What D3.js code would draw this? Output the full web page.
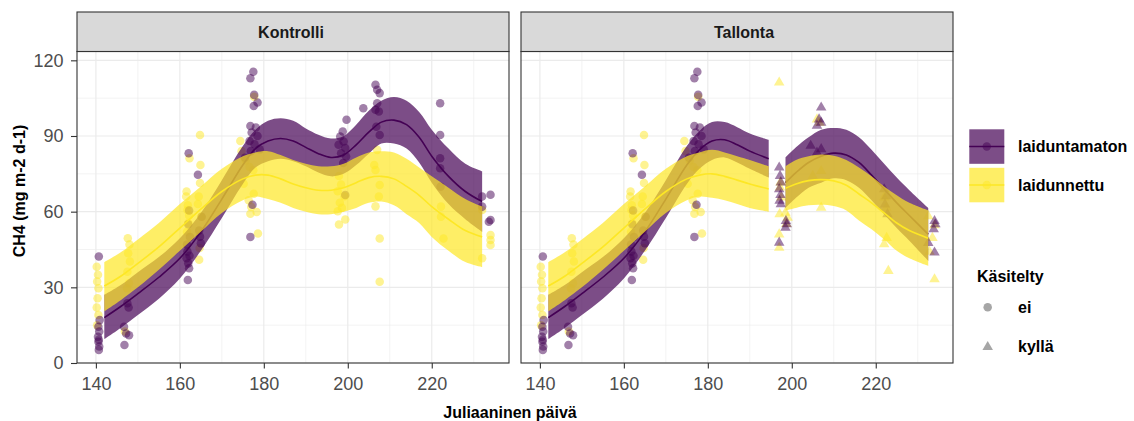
<!DOCTYPE html>
<html>
<head>
<meta charset="utf-8">
<script src="https://cdn.jsdelivr.net/npm/d3@7"></script>
<style>
body { margin: 0; background: #fff; }
svg { display: block; font-family: "Liberation Sans", Arial, sans-serif; }
</style>
</head>
<body>
<svg id="chart" width="1134" height="421"></svg>
<script>
// --- data ---
var paneelit = ['Kontrolli', 'Tallonta'];
var ryhmat = ['laiduntamaton', 'laidunnettu'];
var kasitelty = ['ei', 'kyllä'];
var xTicks = [140, 160, 180, 200, 220];
var yTicks = [0, 30, 60, 90, 120];

// points before treatment, shown in both panels (day, CH4)
var alkuLaiduntamaton = [
    [140.7, 42.2], [140.9, 17], [140.6, 14.4], [140.8, 12.5], [140.5, 10.4], [140.7, 9.2], [140.6, 8.4], [140.8, 6.5], [140.7, 5.2],
    [147.5, 23.7], [147.8, 22], [146.7, 14.4], [147.2, 11.7], [147.9, 11], [146.8, 7.1],
    [162.1, 83.2], [161.8, 44.2], [162.3, 42.5], [161.6, 41.5], [162.0, 39.5], [162.2, 37.6], [161.9, 32.9], [161.7, 47], [162.4, 50], [162, 55], [162.2, 60.5],
    [164.3, 74.6], [164.8, 50.1], [165, 47.5], [164.6, 52.5], [165.2, 58],
    [177.5, 115.5], [176.8, 112.9], [177.7, 106.3], [178.5, 103.3], [177.6, 101.9], [176.8, 94], [178.1, 93.4], [177.1, 91.4],
    [178.5, 90], [176.6, 88], [177.8, 86.7], [179, 84.7], [176.9, 84], [175.5, 81.4], [177.3, 62.7], [176.8, 50]
];
var alkuLaidunnettu = [
    [140.2, 38.2], [140.5, 35], [140.3, 32.3], [140.6, 29.6], [140.4, 25.7], [140.2, 22], [140.6, 19], [140.3, 15],
    [147.6, 49.5], [148, 47], [147.7, 43.5], [148.1, 40.2], [147.5, 36.2], [147.9, 31.6], [147.4, 29.6], [146.9, 12.5],
    [161.6, 68], [161.5, 66], [162.3, 81.2], [161.8, 60.7], [162, 55.5], [161.7, 52], [162.2, 58.5], [161.9, 62.5],
    [164.8, 90.4], [164.9, 78.5], [164.8, 71.4], [164.5, 66], [164.3, 63], [165.1, 58], [164.7, 45.6], [164.6, 40.9],
    [177.7, 105.6], [174.4, 88], [174.7, 84], [175.7, 80.3], [176.6, 77.7], [177.5, 76.4], [175.2, 71.1], [177.6, 67.1],
    [176.4, 64.5], [177, 61.9], [178.3, 59.9], [176.8, 59.2], [178.6, 51.3]
];

// later points, Kontrolli (not treated)
var kontLaiduntamaton = [
    [199.7, 96.4], [198.8, 91.8], [198.2, 89.8], [199, 87.8], [197.8, 86.5], [199.4, 85.2], [198.4, 83.2], [199.6, 81.9], [198.9, 79.3], [199.4, 66.6],
    [206.6, 110.3], [207, 108.3], [207.6, 107], [203.7, 101], [207, 103], [207.4, 99.7], [206.6, 100.4], [206.8, 93.7], [207.6, 90.4],
    [222, 103], [222, 90.4], [222, 81.2], [222, 77.2], [222.1, 69.9],
    [232, 66], [234, 66.7], [234, 56.7], [233.6, 56], [232, 62]
];
var kontLaidunnettu = [
    [197.9, 74.1], [198.4, 70.8], [197.6, 68.1], [199.2, 66.1], [198.1, 63.5], [198.6, 61.5], [197.6, 60.2], [199.4, 56.9], [197.9, 54.9],
    [207, 84.5], [206.3, 78.5], [206.6, 76.5], [207.6, 70.6], [207.4, 66], [206.6, 62.1], [207.6, 49.4], [207.6, 32.2],
    [222.2, 62], [222.2, 58], [222.8, 49.4],
    [232, 60.7], [234, 50.7], [234, 48.8], [234, 46.8], [232, 41.5]
];

// later points, Tallonta (treated)
var tallLaiduntamaton = [
    [197, 77.9], [197.2, 74.6], [197.4, 72], [197, 69.3], [197.3, 67], [197.1, 64.7], [197.4, 63.4], [197, 48.1], [198.6, 56.7], [198.8, 55.4], [198.5, 54],
    [207, 101.7], [206.5, 97], [207, 95.7], [206, 94.5], [204.5, 86.5], [207, 85.2], [206, 83.8],
    [222, 69.3], [222.5, 66.5], [222.2, 63.3], [222.8, 59.4],
    [234, 56.7], [234.2, 55.4], [233.8, 53.4], [232.5, 48], [234, 44.2]
];
var tallLaidunnettu = [
    [197, 111.6], [197.3, 72], [197.2, 70], [197.5, 66], [197.1, 59.4], [197, 51.4], [197, 46.1], [198.5, 60], [199, 58], [198.7, 55.5],
    [206, 97], [206.6, 95.7], [207, 76.5], [205, 74.6], [207, 62],
    [222, 66], [222.5, 62], [222, 47.5], [222.6, 50], [223, 36.9],
    [232.5, 58.6], [234, 55], [233.5, 50], [232.8, 44.5], [234, 33.6]
];

// smooth fits: Kontrolli
var kontPaivat = [142, 146, 150, 155, 160, 165, 170, 175, 178, 181, 184, 187, 190, 193, 196, 199, 202, 205, 208, 211, 214, 217, 220, 224, 228, 232];
var kontPFit = [18, 22.5, 27.5, 34, 41.5, 52, 65, 78.5, 85, 88, 89, 88, 85.5, 83, 81.5, 82.5, 86.5, 91.5, 95.5, 96.3, 94.5, 89.5, 82, 74, 68, 64];
var kontPYla = [27, 31, 36, 42, 49.5, 59.5, 72.5, 86, 92.5, 96, 97, 96, 93, 90.5, 89, 90, 94.5, 100, 104, 105.5, 104, 99.5, 92.5, 85, 79, 76];
var kontPAla = [9.5, 14, 19, 25.5, 33.5, 44.5, 57.5, 71, 77.5, 80, 81, 80, 78, 75.5, 74, 75, 78.5, 83, 87, 87, 85, 79.5, 71.5, 63, 57, 52];
var kontYFit = [30.5, 34.5, 39.5, 46, 53.5, 61, 68, 73, 74.5, 74.5, 73, 71, 69.5, 68.5, 68.5, 69.5, 71.5, 73.5, 74, 73, 70, 66.5, 62, 57, 52.5, 50];
var kontYYla = [40, 44, 49, 55.5, 63, 70, 77, 82, 83.5, 84, 82.5, 80.5, 79, 78, 78, 79, 81.5, 83.5, 84, 83.5, 81, 77.5, 74, 69.5, 65, 62];
var kontYAla = [20.5, 25, 30, 37, 44.5, 52, 59.5, 64.5, 66, 65, 63.5, 61.5, 60, 59, 59, 60, 61.5, 63.5, 64, 62.5, 59, 55.5, 50, 44.5, 40, 38];

// smooth fits: Tallonta, before and after treatment
var tall1Paivat = [142, 146, 150, 155, 160, 165, 170, 175, 178, 181, 184, 187, 190, 194.5];
var tall1PFit = [18, 22.5, 27.5, 34, 41.5, 52, 65, 78.5, 84.5, 88, 88.5, 86.5, 84, 81];
var tall1PYla = [27, 31, 36, 42, 49.5, 59.5, 72.5, 86, 92, 95.5, 95.5, 93.5, 91, 88.5];
var tall1PAla = [9.5, 14, 19, 25.5, 33.5, 44.5, 57.5, 71, 77, 80.5, 81.5, 79.5, 77, 73.5];
var tall1YFit = [30.5, 34.5, 39.5, 46, 53.5, 61, 68, 73, 74.5, 75, 74, 72.5, 71, 69];
var tall1YYla = [40, 44, 49, 55.5, 63, 70, 77, 82, 83.5, 84.5, 83.5, 82, 80.5, 78];
var tall1YAla = [20.5, 25, 30, 37, 44.5, 52, 59.5, 64.5, 66, 65.5, 64.5, 63, 61.5, 60];

var tall2Paivat = [198.5, 201, 204, 207, 210, 213, 216, 219, 222, 225, 228, 232.5];
var tall2PFit = [71.5, 75.5, 79.5, 82, 83.2, 82.5, 79.5, 74.5, 69, 63.5, 58.5, 51];
var tall2PYla = [81.5, 85.5, 89.5, 92.5, 93.2, 92.5, 89.5, 84.5, 79, 73.5, 68.5, 61.5];
var tall2PAla = [61.5, 65.5, 69.5, 71.5, 73.2, 72.5, 69.5, 64.5, 59, 53.5, 48.5, 40.5];
var tall2YFit = [69.3, 71, 72.3, 72.7, 72.2, 70.5, 67, 63.5, 59.5, 55.5, 52.5, 49.5];
var tall2YYla = [78, 80.5, 82, 82.7, 82.2, 80.5, 77.5, 74, 70, 66.5, 63.5, 60.5];
var tall2YAla = [60.5, 61.5, 62.5, 62.7, 62.2, 60.5, 56.5, 53, 49, 44.5, 41.5, 38.5];

// --- drawing ---
var purple = '#440154';
var yellow = '#FDE725';

var panelTop = 51.5, panelBottom = 363;
var svg = d3.select('#chart');

var y = d3.scaleLinear().domain([0, 123.5]).range([panelBottom, panelTop]);

function fitSegment(days, fit, lo, hi, color) {
    return days.map((d, i) => ({ day: d, fit: fit[i], lo: lo[i], hi: hi[i], color: color }));
}

var panels = [
    {
        name: paneelit[0], left: 77, right: 509, labelX: 291, shape: d3.symbolCircle,
        late: [kontLaidunnettu, kontLaiduntamaton],
        fits: [
            fitSegment(kontPaivat, kontPFit, kontPAla, kontPYla, purple),
            fitSegment(kontPaivat, kontYFit, kontYAla, kontYYla, yellow)
        ]
    },
    {
        name: paneelit[1], left: 521, right: 953, labelX: 744, shape: d3.symbolTriangle,
        late: [tallLaidunnettu, tallLaiduntamaton],
        fits: [
            fitSegment(tall1Paivat, tall1PFit, tall1PAla, tall1PYla, purple),
            fitSegment(tall2Paivat, tall2PFit, tall2PAla, tall2PYla, purple),
            fitSegment(tall1Paivat, tall1YFit, tall1YAla, tall1YYla, yellow),
            fitSegment(tall2Paivat, tall2YFit, tall2YAla, tall2YYla, yellow)
        ]
    }
];

var circleSize = 57, triangleSize = 48;

panels.forEach((p, pi) => {
    var x = d3.scaleLinear().domain([135.5, 238.4]).range([p.left, p.right]);
    var g = svg.append('g');
    var ph = panelBottom - panelTop;

    g.append('rect')
        .attr('x', p.left).attr('y', panelTop)
        .attr('width', p.right - p.left).attr('height', ph)
        .attr('fill', '#fff');

    // grid
    var minorX = [150, 170, 190, 210, 230], minorY = [15, 45, 75, 105];
    g.selectAll(null).data(minorX).enter().append('line')
        .attr('x1', d => x(d)).attr('x2', d => x(d)).attr('y1', panelTop).attr('y2', panelBottom)
        .attr('stroke', '#ebebeb').attr('stroke-width', 0.6);
    g.selectAll(null).data(minorY).enter().append('line')
        .attr('x1', p.left).attr('x2', p.right).attr('y1', d => y(d)).attr('y2', d => y(d))
        .attr('stroke', '#ebebeb').attr('stroke-width', 0.6);
    g.selectAll(null).data(xTicks).enter().append('line')
        .attr('x1', d => x(d)).attr('x2', d => x(d)).attr('y1', panelTop).attr('y2', panelBottom)
        .attr('stroke', '#ebebeb').attr('stroke-width', 1.2);
    g.selectAll(null).data(yTicks).enter().append('line')
        .attr('x1', p.left).attr('x2', p.right).attr('y1', d => y(d)).attr('y2', d => y(d))
        .attr('stroke', '#ebebeb').attr('stroke-width', 1.2);

    var clipId = 'clip' + pi;
    svg.append('clipPath').attr('id', clipId).append('rect')
        .attr('x', p.left).attr('y', panelTop).attr('width', p.right - p.left).attr('height', ph);
    var plot = g.append('g').attr('clip-path', 'url(#' + clipId + ')');

    // points: early ones are circles, later ones use panel shape
    var sym = d3.symbol().type(d3.symbolCircle).size(circleSize);
    [[alkuLaidunnettu, yellow], [alkuLaiduntamaton, purple]].forEach(s => {
        plot.selectAll(null).data(s[0]).enter().append('path')
            .attr('d', sym())
            .attr('transform', d => 'translate(' + x(d[0]) + ',' + y(d[1]) + ')')
            .attr('fill', s[1]).attr('fill-opacity', 0.5);
    });
    var tri = p.shape === d3.symbolTriangle;
    var symLate = d3.symbol().type(p.shape).size(tri ? triangleSize : circleSize);
    [[p.late[0], yellow], [p.late[1], purple]].forEach(s => {
        plot.selectAll(null).data(s[0]).enter().append('path')
            .attr('d', symLate())
            .attr('transform', d => 'translate(' + x(d[0]) + ',' + (y(d[1]) + (tri ? 1 : 0)) + ')')
            .attr('fill', s[1]).attr('fill-opacity', 0.5);
    });

    // smooth ribbons and lines
    var area = d3.area().curve(d3.curveCatmullRom)
        .x(d => x(d.day)).y0(d => y(d.lo)).y1(d => y(d.hi));
    var line = d3.line().curve(d3.curveCatmullRom)
        .x(d => x(d.day)).y(d => y(d.fit));
    p.fits.forEach(seg => {
        plot.append('path').datum(seg).attr('d', area)
            .attr('fill', seg[0].color).attr('fill-opacity', 0.7);
        plot.append('path').datum(seg).attr('d', line)
            .attr('fill', 'none').attr('stroke', seg[0].color).attr('stroke-width', 1.6);
    });

    // border
    g.append('rect')
        .attr('x', p.left).attr('y', panelTop)
        .attr('width', p.right - p.left).attr('height', ph)
        .attr('fill', 'none').attr('stroke', '#333').attr('stroke-width', 1.1);

    // strip
    g.append('rect')
        .attr('x', p.left).attr('y', 12)
        .attr('width', p.right - p.left).attr('height', panelTop - 12)
        .attr('fill', '#d9d9d9').attr('stroke', '#333').attr('stroke-width', 1.1);
    g.append('text')
        .attr('x', p.labelX).attr('y', 37.5)
        .attr('text-anchor', 'middle')
        .attr('font-size', 16).attr('font-weight', 'bold').attr('fill', '#1a1a1a')
        .text(p.name);

    // x axis
    var xa = svg.append('g').attr('transform', 'translate(0,' + panelBottom + ')')
        .call(d3.axisBottom(x).tickValues(xTicks).tickSizeInner(5.5).tickSizeOuter(0).tickPadding(8.5));
    xa.select('.domain').remove();
    xa.selectAll('line').attr('stroke', '#333').attr('stroke-width', 1.1);
    xa.selectAll('text').attr('fill', '#4d4d4d').attr('font-size', 18).attr('font-family', null);

    if (pi === 0) {
        var ya = svg.append('g').attr('transform', 'translate(' + p.left + ',0)')
            .call(d3.axisLeft(y).tickValues(yTicks).tickSizeInner(6).tickSizeOuter(0).tickPadding(7.5));
        ya.select('.domain').remove();
        ya.selectAll('line').attr('stroke', '#333').attr('stroke-width', 1.1);
        ya.selectAll('text').attr('fill', '#4d4d4d').attr('font-size', 18).attr('font-family', null);
    }
});

// axis titles
svg.append('text')
    .attr('x', 510).attr('y', 418)
    .attr('text-anchor', 'middle').attr('font-size', 16).attr('font-weight', 'bold')
    .text('Juliaaninen päivä');
svg.append('text')
    .attr('transform', 'translate(25,191) rotate(-90)')
    .attr('text-anchor', 'middle').attr('font-size', 16).attr('font-weight', 'bold')
    .text('CH4 (mg m-2 d-1)');

// legend: colour
var leg = svg.append('g');
var keyY = [129.3, 167.8];
[purple, yellow].forEach((c, i) => {
    var ky = keyY[i];
    leg.append('rect').attr('x', 969.3).attr('y', ky).attr('width', 35).attr('height', 34.5)
        .attr('fill', c).attr('fill-opacity', 0.7);
    leg.append('line').attr('x1', 969.3).attr('x2', 1004.3).attr('y1', ky + 17.25).attr('y2', ky + 17.25)
        .attr('stroke', c).attr('stroke-width', 1.6);
    leg.append('circle').attr('cx', 986.8).attr('cy', ky + 17.25).attr('r', 4.2)
        .attr('fill', c).attr('fill-opacity', 0.5);
    leg.append('text').attr('x', 1018).attr('y', ky + 23)
        .attr('font-size', 16).attr('font-weight', 'bold').text(ryhmat[i]);
});

// legend: shape
leg.append('text').attr('x', 977).attr('y', 281.5)
    .attr('font-size', 16).attr('font-weight', 'bold').text('Käsitelty');
var shapeY = [307.3, 346];
[d3.symbolCircle, d3.symbolTriangle].forEach((s, i) => {
    leg.append('path')
        .attr('d', d3.symbol().type(s).size(i ? triangleSize : circleSize)())
        .attr('transform', 'translate(987.7,' + (shapeY[i] + (i ? 1 : 0)) + ')')
        .attr('fill', '#4d4d4d').attr('fill-opacity', 0.5);
    leg.append('text').attr('x', 1018).attr('y', shapeY[i] + 6)
        .attr('font-size', 16).attr('font-weight', 'bold').text(kasitelty[i]);
});
</script>
</body>
</html>
